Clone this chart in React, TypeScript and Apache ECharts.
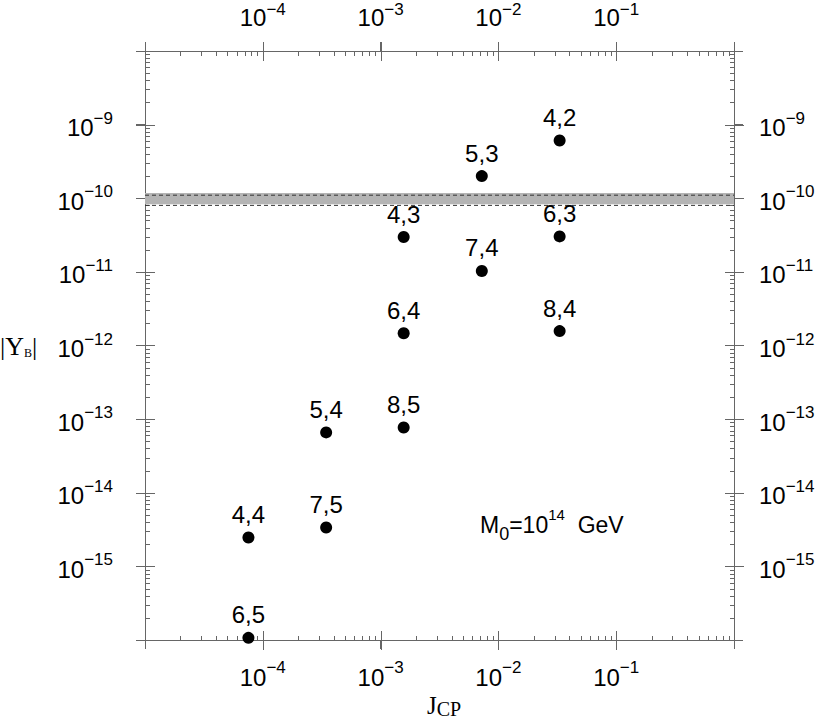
import React, { useEffect, useRef } from "react";
import * as echarts from "echarts";

// ---- data ----
const X_MIN = 1e-5;
const X_MAX = 1;
const Y_MIN = 1e-16;
const Y_MAX = 1e-8;

const xLabelExponents = [-4, -3, -2, -1];
const yLabelExponents = [-15, -14, -13, -12, -11, -10, -9];
const xDecades = [-5, -4, -3, -2, -1, 0];
const yDecades = [-16, -15, -14, -13, -12, -11, -10, -9, -8];
const minorMultipliers = [2, 3, 4, 5, 6, 7, 8, 9];

const pointLabels = ["4,2", "5,3", "4,3", "6,3", "7,4", "6,4", "8,4", "5,4", "8,5", "4,4", "7,5", "6,5"];
const jcpValues = [0.0331, 0.00723, 0.00157, 0.0331, 0.00723, 0.00157, 0.0331, 3.45e-4, 0.00157, 7.55e-5, 3.45e-4, 7.55e-5];
const ybValues = [6.1e-10, 2.0e-10, 2.97e-11, 3.03e-11, 1.03e-11, 1.47e-12, 1.57e-12, 6.6e-14, 7.7e-14, 2.47e-15, 3.38e-15, 1.07e-16];

const bandFill = [8.3e-11, 1.18e-10];
const bandDashed = [8.0e-11, 1.1e-10];

const SANS = "'Liberation Sans', Arial, Helvetica, sans-serif";
const SERIF = "'Liberation Serif', 'Times New Roman', serif";
const TICK_COLOR = "#666";

// tick specs: [x, y, kind(0=x,1=y), major]
const tickData: number[][] = [];
xDecades.forEach((d) => {
  const base = Math.pow(10, d);
  if (d !== xDecades[0] && d !== xDecades[xDecades.length - 1]) tickData.push([base, Y_MIN, 0, 1]);
  if (d < xDecades[xDecades.length - 1]) minorMultipliers.forEach((m) => tickData.push([m * base, Y_MIN, 0, 0]));
});
yDecades.forEach((d) => {
  const base = Math.pow(10, d);
  if (d !== yDecades[0] && d !== yDecades[yDecades.length - 1]) tickData.push([X_MIN, base, 1, 1]);
  if (d < yDecades[yDecades.length - 1]) minorMultipliers.forEach((m) => tickData.push([X_MIN, m * base, 1, 0]));
});

const makeRich = (lh: number) => ({
  b: { fontSize: 24, fontFamily: SANS, color: "#000", verticalAlign: "bottom", lineHeight: lh },
  e: { fontSize: 17, fontFamily: SANS, color: "#000", verticalAlign: "top", lineHeight: lh },
});

const makeFormatter = (allowed: number[]) => (v: number) => {
  const e = Math.round(Math.log10(v));
  if (!allowed.includes(e)) return "";
  return `{b|10}{e|\u2212${-e}}`;
};

const axisLineStyle = { show: true, lineStyle: { color: TICK_COLOR, width: 1 } };
const nativeTick = { show: true, inside: false, length: 9, lineStyle: { color: TICK_COLOR, width: 1 } };

const tickRect = (x: number, y: number, width: number, height: number) => ({
  type: "rect",
  shape: { x, y, width, height },
  style: { fill: TICK_COLOR },
});

const num = (v: any): number => {
  const n = Array.isArray(v) ? Number(v[0]) : Number(v);
  return n;
};

export default function App() {
  const ref = useRef<HTMLDivElement>(null);
  useEffect(() => {
    if (!ref.current) return;
    const chart = echarts.init(ref.current, null, { renderer: "svg" });
    const xAxisBase = {
      type: "log",
      min: X_MIN,
      max: X_MAX,
      axisLine: axisLineStyle,
      axisTick: nativeTick,
      minorTick: { show: false },
      splitLine: { show: false },
    };
    const yAxisBase = {
      type: "log",
      min: Y_MIN,
      max: Y_MAX,
      splitNumber: 8,
      axisLine: axisLineStyle,
      axisTick: nativeTick,
      minorTick: { show: false },
      splitLine: { show: false },
    };
    const textGraphics: any[] = [
      {
        type: "text",
        left: 0,
        top: 333,
        style: {
          text: "{bar||}{y|Y}{sub|B}{bar||}",
          rich: {
            bar: { fontSize: 26, fontFamily: SERIF, color: "#000", verticalAlign: "bottom", lineHeight: 28 },
            y: { fontSize: 26, fontFamily: SERIF, color: "#000", verticalAlign: "bottom", lineHeight: 28 },
            sub: { fontSize: 12, fontFamily: SERIF, color: "#000", verticalAlign: "bottom", lineHeight: 28 },
          },
        },
      },
      {
        type: "text",
        left: 427,
        top: 693,
        style: {
          text: "{j|J}{s|CP}",
          rich: {
            j: { fontSize: 25, fontFamily: SERIF, color: "#000", verticalAlign: "top", lineHeight: 26 },
            s: { fontSize: 20, fontFamily: SERIF, color: "#000", verticalAlign: "bottom", lineHeight: 26 },
          },
        },
      },
      {
        type: "text",
        left: 480,
        top: 507,
        style: {
          text: "{n|M}{sub|0}{n|=10}{sup|14}{n|  GeV}",
          rich: {
            n: { fontSize: 23, fontFamily: SANS, color: "#000", verticalAlign: "middle", lineHeight: 36 },
            sub: { fontSize: 18, fontFamily: SANS, color: "#000", verticalAlign: "bottom", lineHeight: 36 },
            sup: { fontSize: 15, fontFamily: SANS, color: "#000", verticalAlign: "top", lineHeight: 36 },
          },
        },
      },
    ];
    const option: any = {
      animation: false,
      grid: { left: 145, right: 83, top: 51, bottom: 79, containLabel: false, outerBoundsMode: "none" },
      xAxis: [
        {
          ...xAxisBase,
          position: "bottom",
          axisLabel: { formatter: makeFormatter(xLabelExponents), color: "#000", margin: 19, rich: makeRich(30), showMinLabel: true, showMaxLabel: true },
        },
        {
          ...xAxisBase,
          position: "top",
          axisLabel: { formatter: makeFormatter(xLabelExponents), color: "#000", margin: 22, rich: makeRich(28), showMinLabel: true, showMaxLabel: true },
        },
      ],
      yAxis: [
        {
          ...yAxisBase,
          position: "left",
          axisLabel: { formatter: makeFormatter(yLabelExponents), color: "#000", margin: 32, rich: makeRich(30), align: "right" },
        },
        {
          ...yAxisBase,
          position: "right",
          axisLabel: { formatter: makeFormatter(yLabelExponents), color: "#000", margin: 25, rich: makeRich(30), align: "left" },
        },
      ],
      series: [
        {
          type: "scatter",
          xAxisIndex: 0,
          yAxisIndex: 0,
          symbol: "circle",
          symbolSize: 12,
          clip: false,
          itemStyle: { color: "#000", opacity: 1 },
          data: jcpValues.map((x, i) => [x, ybValues[i]]),
          label: {
            show: true,
            position: "inside",
            offset: [0, -23],
            formatter: (p: any) => pointLabels[p.dataIndex],
            fontSize: 24,
            fontFamily: SANS,
            color: "#000",
          },
          z: 5,
          markArea: {
            silent: true,
            itemStyle: { color: "#b4b4b4", opacity: 1 },
            data: [[{ yAxis: bandFill[0] }, { yAxis: bandFill[1] }]],
          },
        },
        ...bandDashed.map((v) => ({
          type: "line",
          xAxisIndex: 0,
          yAxisIndex: 0,
          symbol: "none",
          silent: true,
          z: 4,
          lineStyle: { color: "#333", width: 1, type: [4, 3] },
          data: [
            [X_MIN, v],
            [X_MAX, v],
          ],
        })),
      ],
      graphic: textGraphics,
    };
    chart.setOption(option);

    // inner/minor axis ticks: pixel positions come from the chart's own log axes
    const xPix = (v: number) => num(chart.convertToPixel({ xAxisIndex: 0 } as any, v as any));
    const yPix = (v: number) => num(chart.convertToPixel({ yAxisIndex: 0 } as any, v as any));
    const tickGraphics: any[] = [];
    try {
      const yBottom = Math.round(yPix(Y_MIN));
      const yTop = Math.round(yPix(Y_MAX));
      const xLeft = Math.round(xPix(X_MIN));
      const xRight = Math.round(xPix(X_MAX));
      tickData.forEach(([vx, vy, kind, majorFlag]) => {
        const major = majorFlag === 1;
        const inLen = major ? 9 : 4;
        const outLen = major ? 9 : 0;
        if (kind === 0) {
          const x = Math.round(xPix(vx));
          if (!Number.isFinite(x) || !Number.isFinite(yBottom) || !Number.isFinite(yTop)) return;
          tickGraphics.push(tickRect(x, yBottom - inLen, 1, inLen + outLen + 1));
          tickGraphics.push(tickRect(x, yTop - outLen, 1, inLen + outLen + 1));
        } else {
          const y = Math.round(yPix(vy));
          if (!Number.isFinite(y) || !Number.isFinite(xLeft) || !Number.isFinite(xRight)) return;
          tickGraphics.push(tickRect(xLeft - outLen, y, inLen + outLen + 1, 1));
          tickGraphics.push(tickRect(xRight - inLen, y, inLen + outLen + 1, 1));
        }
      });
    } catch (e) {
      // keep the native ticks only
    }
    if (tickGraphics.length) chart.setOption({ graphic: [...textGraphics, ...tickGraphics] });
    return () => chart.dispose();
  }, []);
  return (
    <div
      ref={ref}
      style={{ position: "fixed", left: 0, top: 0, width: 817, height: 719, background: "#fff" }}
    />
  );
}
